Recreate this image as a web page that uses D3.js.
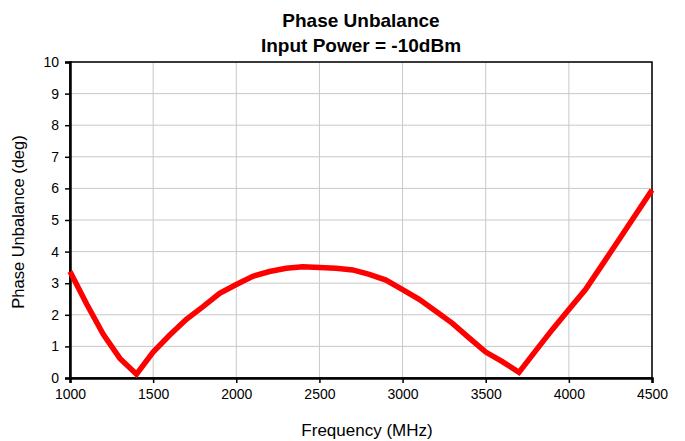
<!DOCTYPE html>
<html>
<head>
<meta charset="utf-8">
<script src="https://cdn.jsdelivr.net/npm/d3@7"></script>
<style>
  body { margin: 0; background: #fff; }
  svg { font-family: "Liberation Sans", Arial, sans-serif; }
</style>
</head>
<body>
<script>

// Frequency (MHz) and measured phase unbalance (deg).
var freqs = [1000, 1100, 1200, 1300, 1400, 1500, 1600, 1700, 1800, 1900,
  2000, 2100, 2200, 2300, 2400, 2500, 2600, 2700, 2800, 2900, 3000, 3100,
  3200, 3300, 3400, 3500, 3600, 3700, 3800, 3900, 4000, 4100, 4200, 4300,
  4400, 4500];
var unbalance = [3.37, 2.34, 1.38, 0.62, 0.12, 0.82, 1.36, 1.86, 2.26, 2.68,
  2.96, 3.22, 3.37, 3.47, 3.52, 3.5, 3.47, 3.42, 3.28, 3.1, 2.8, 2.49,
  2.11, 1.73, 1.27, 0.82, 0.52, 0.18, 0.86, 1.53, 2.17, 2.8, 3.58, 4.37,
  5.16, 5.95];
var xTicks = [1000, 1500, 2000, 2500, 3000, 3500, 4000, 4500];
var yTicks = [0, 1, 2, 3, 4, 5, 6, 7, 8, 9, 10];

var W = 685, H = 441;
var m = { left: 70, right: 33, top: 62, bottom: 63 };

var svg = d3.select('body').append('svg')
  .attr('width', W).attr('height', H);

var x = d3.scaleLinear().domain([1000, 4500]).range([m.left, W - m.right]);
var y = d3.scaleLinear().domain([0, 10]).range([H - m.bottom, m.top]);

// Grid lines.
svg.append('g').selectAll('line.v').data(xTicks).enter().append('line')
  .attr('x1', function(d) { return x(d); })
  .attr('x2', function(d) { return x(d); })
  .attr('y1', y(0)).attr('y2', y(10))
  .attr('stroke', '#c8c8c8').attr('stroke-width', 1);
svg.append('g').selectAll('line.h').data(yTicks).enter().append('line')
  .attr('x1', x(1000)).attr('x2', x(4500))
  .attr('y1', function(d) { return y(d); })
  .attr('y2', function(d) { return y(d); })
  .attr('stroke', '#c8c8c8').attr('stroke-width', 1);

// Frame.
svg.append('rect')
  .attr('x', x(1000)).attr('y', y(10))
  .attr('width', x(4500) - x(1000)).attr('height', y(0) - y(10))
  .attr('fill', 'none').attr('stroke', '#000').attr('stroke-width', 1.5);

// Axes.
var xAxis = svg.append('g')
  .attr('transform', 'translate(0,' + y(0) + ')')
  .call(d3.axisBottom(x).tickValues(xTicks).tickSize(5).tickPadding(6)
    .tickFormat(d3.format('d')));
var yAxis = svg.append('g')
  .attr('transform', 'translate(' + x(1000) + ',0)')
  .call(d3.axisLeft(y).tickValues(yTicks).tickSize(5).tickPadding(6));
[xAxis, yAxis].forEach(function(a) {
  a.select('.domain').attr('stroke', '#000').attr('stroke-width', 2.5);
  a.selectAll('.tick line').attr('stroke', '#000').attr('stroke-width', 1.5);
  a.selectAll('text').attr('font-size', 14).attr('fill', '#000')
    .attr('font-family', '"Liberation Sans", Arial, sans-serif');
});

// Data line.
var line = d3.line()
  .x(function(d, i) { return x(freqs[i]); })
  .y(function(d) { return y(d); });
svg.append('path').datum(unbalance)
  .attr('d', line)
  .attr('fill', 'none').attr('stroke', '#ff0000')
  .attr('stroke-width', 5.5).attr('stroke-linejoin', 'miter');

// Titles.
var cx = (x(1000) + x(4500)) / 2;
svg.append('text').attr('x', cx).attr('y', 27)
  .attr('text-anchor', 'middle').attr('font-size', 19)
  .attr('font-weight', 'bold').text('Phase Unbalance');
svg.append('text').attr('x', cx).attr('y', 52)
  .attr('text-anchor', 'middle').attr('font-size', 19)
  .attr('font-weight', 'bold').text('Input Power = -10dBm');
svg.append('text').attr('x', cx + 6).attr('y', 436)
  .attr('text-anchor', 'middle').attr('font-size', 17)
  .text('Frequency (MHz)');
svg.append('text')
  .attr('transform', 'translate(24,' + ((y(0) + y(10)) / 2 + 2) + ') rotate(-90)')
  .attr('text-anchor', 'middle').attr('font-size', 16.5)
  .text('Phase Unbalance (deg)');

</script>
</body>
</html>
